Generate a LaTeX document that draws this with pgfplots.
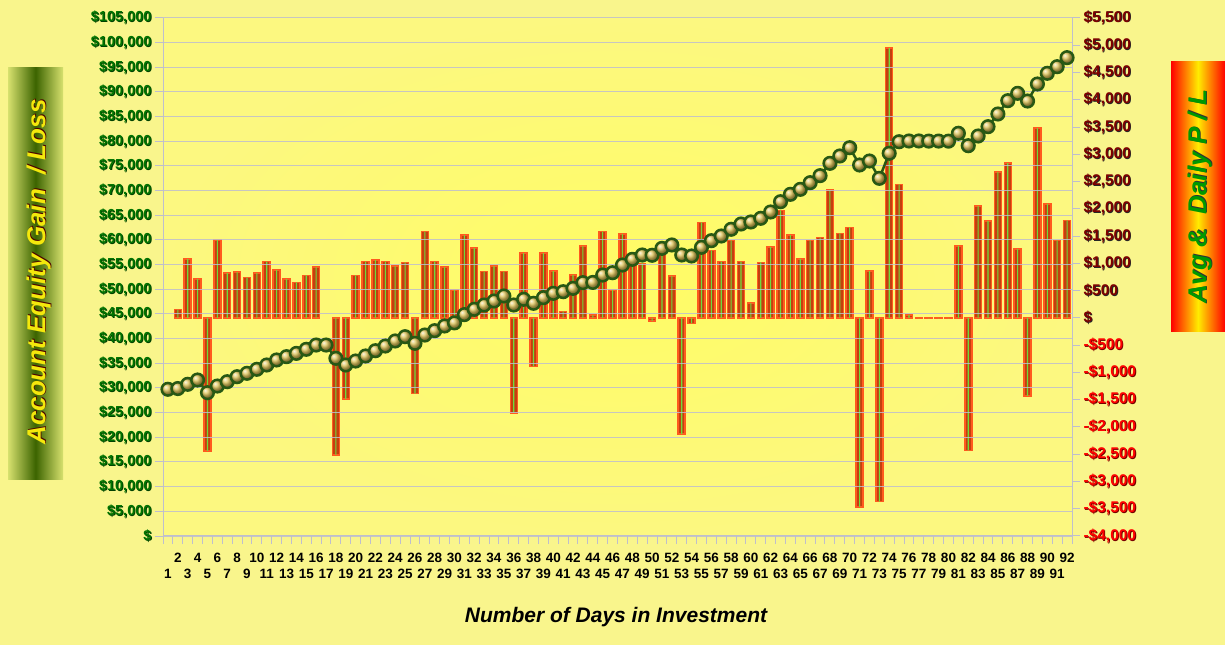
\documentclass[border=0pt]{standalone}
\usepackage{pgfplots}
\usepackage{pgfplotstable}
\pgfplotsset{compat=1.18}
\usepackage{fontspec}
\setmainfont{Liberation Sans}

\definecolor{bgpage}{RGB}{249,245,140}
\definecolor{bgout}{RGB}{252,248,128}
\definecolor{bgin}{RGB}{255,252,100}
\definecolor{barfill}{RGB}{195,64,14}
\definecolor{baredge}{RGB}{255,90,30}
\definecolor{stripe}{RGB}{110,220,60}
\definecolor{gridc}{RGB}{190,190,205}
\definecolor{eqline}{RGB}{40,88,20}
\definecolor{gold}{RGB}{225,198,90}
\definecolor{lgreen}{RGB}{0,115,0}
\definecolor{dred}{RGB}{125,0,0}
\definecolor{boxgreen}{RGB}{60,100,0}
\definecolor{boxedge}{RGB}{215,225,110}

% text with a small drop shadow
\newcommand\shtext[3]{\rlap{\kern0.9pt\raisebox{-0.9pt}{\color{#2}#3}}{\color{#1}#3}}
\newcommand\lgl[1]{\shtext{lgreen}{black!75!green}{#1}}
\newcommand\rpos[1]{\shtext{dred}{black!85}{#1}}
\newcommand\rneg[1]{\shtext{red}{black!55!red}{#1}}

% daily P/L (right axis)
\pgfplotstableread{
day pl
2 150
3 1080
4 710
5 -2440
6 1430
7 820
8 840
9 740
10 820
11 1030
12 880
13 710
14 650
15 780
16 930
18 -2510
19 -1490
20 780
21 1030
22 1060
23 1030
24 950
25 1020
26 -1390
27 1580
28 1030
29 930
30 510
31 1520
32 1280
33 850
34 950
35 850
36 -1740
37 1190
38 -890
39 1190
40 860
41 120
42 790
43 1320
44 50
45 1580
46 510
47 1540
48 970
49 1000
50 -60
51 1160
52 770
53 -2130
54 -100
55 1750
56 1240
57 1030
58 1420
59 1030
60 270
61 1020
62 1300
63 1970
64 1520
65 1080
66 1420
67 1470
68 2350
69 1550
70 1660
71 -3470
72 860
73 -3370
74 4950
75 2450
76 55
77 -10
78 -10
79 -10
80 -10
81 1320
82 -2430
83 2050
84 1780
85 2680
86 2840
87 1260
88 -1430
89 3480
90 2090
91 1420
92 1790
}\pltable

% account equity (left axis)
\pgfplotstableread{
day eq
1 29740
2 29890
3 30750
4 31620
5 29050
6 30400
7 31280
8 32290
9 32980
10 33790
11 34660
12 35680
13 36350
14 37020
15 37840
16 38710
17 38710
18 36020
19 34660
20 35470
21 36490
22 37560
23 38510
24 39530
25 40400
26 39060
27 40740
28 41620
29 42570
30 43200
31 44870
32 45950
33 46820
34 47630
35 48650
36 46820
37 47980
38 47170
39 48310
40 49190
41 49520
42 50200
43 51350
44 51400
45 52900
46 53370
47 54930
48 56080
49 56960
50 56900
51 58310
52 58990
53 56960
54 56760
55 58520
56 59860
57 60810
58 62170
59 63240
60 63650
61 64400
62 65680
63 67760
64 69260
65 70270
66 71620
67 73040
68 75540
69 77030
70 78710
71 75200
72 76010
73 72500
74 77580
75 79920
76 80070
77 80070
78 80050
79 80050
80 80040
81 81630
82 79110
83 81080
84 82970
85 85540
86 88240
87 89730
88 88170
89 91620
90 93790
91 95130
92 96960
}\eqtable

\begin{document}
\begin{tikzpicture}
\fill[bgpage] (0,0) rectangle (1225pt,645pt);
\useasboundingbox (0,0) rectangle (1225pt,645pt);

% left title box
\shade[left color=boxedge, right color=boxedge, middle color=boxgreen]
  (8pt,165pt) rectangle (63pt,577pt);
\node[rotate=90, font=\fontsize{26}{30}\selectfont\bfseries\itshape] at (39pt,373pt)
  {\shtext{yellow!95!black}{black!70!red}{Account Equity Gain \ / Loss}};

% right title box
\shade[left color=red, right color=red, middle color=yellow!85!orange]
  (1171pt,313pt) rectangle (1225pt,583pt);
\node[rotate=90, font=\fontsize{26}{30}\selectfont\bfseries\itshape] at (1200pt,448pt)
  {\shtext{green!60!black}{black!80}{Avg \& \ Daily P / L}};

% x axis title
\node[font=\fontsize{21}{25}\selectfont\bfseries\itshape] at (616pt,28pt)
  {Number of Days in Investment};

% bars: daily P/L on the right axis
\begin{axis}[
  at={(163pt,109pt)}, anchor=south west,
  scale only axis, width=909pt, height=518pt,
  xmin=0.5, xmax=92.5, ymin=-4000, ymax=5500,
  axis y line*=right, axis x line*=bottom,
  axis line style={gridc, line width=1pt, -},
  axis background/.style={shade, inner color=bgin, outer color=bgout},
  tick align=outside,
  major tick length=8pt, minor tick length=8pt,
  scaled y ticks=false,
  ytick={-4000,-3500,...,5500},
  yticklabels={{\rneg{-\$4,000}},{\rneg{-\$3,500}},{\rneg{-\$3,000}},{\rneg{-\$2,500}},
    {\rneg{-\$2,000}},{\rneg{-\$1,500}},{\rneg{-\$1,000}},{\rneg{-\$500}},{\rpos{\$}},
    {\rpos{\$500}},{\rpos{\$1,000}},{\rpos{\$1,500}},{\rpos{\$2,000}},{\rpos{\$2,500}},
    {\rpos{\$3,000}},{\rpos{\$3,500}},{\rpos{\$4,000}},{\rpos{\$4,500}},{\rpos{\$5,000}},
    {\rpos{\$5,500}}},
  yticklabel style={font=\fontsize{15.5}{18}\selectfont\bfseries},
  ytick style={gridc, line width=1pt},
  xtick={1,...,92},
  minor xtick={0.5,1.5,...,92.5},
  major x tick style={draw=none},
  minor x tick style={gridc, line width=1pt},
  xticklabel={\pgfmathtruncatemacro\n{\tick}\ifodd\n\raisebox{-16pt}[0pt][0pt]{\n}\else\raisebox{0pt}[0pt][0pt]{\n}\fi},
  xticklabel style={font=\fontsize{13.5}{16}\selectfont\bfseries, yshift=-15pt},
  ybar,
]
\addplot[ybar, bar shift=0pt, bar width=7pt, fill=barfill, draw=baredge, line width=1.5pt]
  table[x=day, y=pl] {\pltable};
\addplot[ybar, bar shift=0pt, bar width=1.1pt, fill=stripe, draw=none]
  table[x=day, y=pl] {\pltable};
\end{axis}

% equity line on the left axis
\begin{axis}[
  at={(163pt,109pt)}, anchor=south west,
  scale only axis, width=909pt, height=518pt,
  xmin=0.5, xmax=92.5, ymin=0, ymax=105000,
  axis y line*=left, axis x line=none,
  axis line style={gridc, line width=1pt, -},
  tick align=outside, major tick length=8pt,
  scaled y ticks=false,
  ymajorgrids, grid style={gridc, line width=1pt, opacity=0.85},
  ytick={0,5000,...,105000},
  yticklabels={{\lgl{\$}},{\lgl{\$5,000}},{\lgl{\$10,000}},{\lgl{\$15,000}},{\lgl{\$20,000}},
    {\lgl{\$25,000}},{\lgl{\$30,000}},{\lgl{\$35,000}},{\lgl{\$40,000}},{\lgl{\$45,000}},
    {\lgl{\$50,000}},{\lgl{\$55,000}},{\lgl{\$60,000}},{\lgl{\$65,000}},{\lgl{\$70,000}},
    {\lgl{\$75,000}},{\lgl{\$80,000}},{\lgl{\$85,000}},{\lgl{\$90,000}},{\lgl{\$95,000}},
    {\lgl{\$100,000}},{\lgl{\$105,000}}},
  yticklabel style={font=\fontsize{14.5}{17}\selectfont\bfseries},
  ytick style={gridc, line width=1pt},
  xtick=\empty,
  clip=false,
]
\addplot[eqline, line width=2.5pt, mark=ball, mark size=6.3pt, mark options={ball color=gold, draw=none}]
  table[x=day, y=eq] {\eqtable};
\end{axis}
\end{tikzpicture}
\end{document}
